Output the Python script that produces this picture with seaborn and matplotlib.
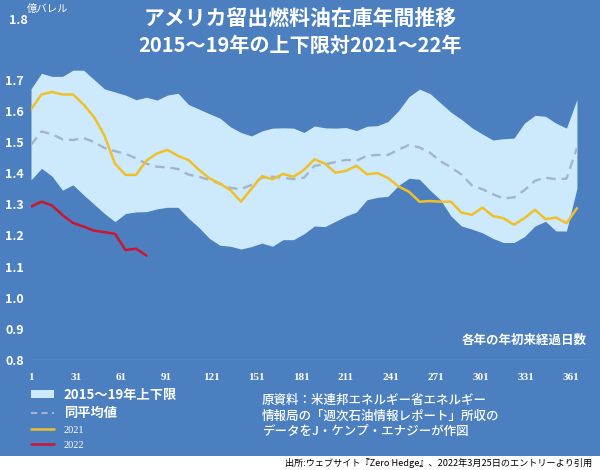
import numpy as np
import pandas as pd
import matplotlib
matplotlib.use("Agg")
import matplotlib.pyplot as plt
import matplotlib.patches as mpatches
from matplotlib.lines import Line2D
import seaborn as sns

# === datos ===
days = [1, 8, 15, 22, 29, 36, 43, 50, 57, 64, 71, 78, 85, 92, 99, 106, 113, 120,
        127, 134, 141, 148, 155, 162, 169, 176, 183, 190, 197, 204, 211, 218, 225,
        232, 239, 246, 253, 260, 267, 274, 281, 288, 295, 302, 309, 316, 323, 330,
        337, 344, 351, 358, 365]

band_hi = [1.67, 1.72, 1.71, 1.71, 1.73, 1.73, 1.70, 1.67, 1.66, 1.65, 1.635, 1.643,
           1.634, 1.65, 1.656, 1.62, 1.605, 1.59, 1.576, 1.548, 1.53, 1.519, 1.535,
           1.544, 1.545, 1.544, 1.53, 1.551, 1.545, 1.544, 1.546, 1.536, 1.55, 1.552,
           1.565, 1.60, 1.645, 1.669, 1.655, 1.625, 1.595, 1.572, 1.545, 1.525, 1.506,
           1.51, 1.512, 1.56, 1.585, 1.582, 1.56, 1.544, 1.636]

band_lo = [1.378, 1.415, 1.39, 1.345, 1.362, 1.33, 1.30, 1.27, 1.244, 1.27, 1.275,
           1.276, 1.285, 1.29, 1.29, 1.255, 1.225, 1.19, 1.168, 1.165, 1.156, 1.164,
           1.175, 1.165, 1.186, 1.186, 1.205, 1.23, 1.228, 1.245, 1.262, 1.275, 1.314,
           1.322, 1.325, 1.36, 1.383, 1.38, 1.345, 1.314, 1.262, 1.23, 1.22, 1.208,
           1.19, 1.177, 1.177, 1.196, 1.23, 1.245, 1.214, 1.214, 1.351]

avg_1519 = [1.49, 1.533, 1.525, 1.508, 1.506, 1.512, 1.50, 1.48, 1.47, 1.462, 1.447,
            1.43, 1.42, 1.418, 1.413, 1.395, 1.388, 1.378, 1.365, 1.352, 1.348, 1.362,
            1.385, 1.388, 1.385, 1.38, 1.385, 1.423, 1.428, 1.435, 1.442, 1.44, 1.455,
            1.458, 1.458, 1.475, 1.49, 1.482, 1.465, 1.438, 1.418, 1.395, 1.36, 1.348,
            1.332, 1.318, 1.322, 1.345, 1.375, 1.385, 1.38, 1.382, 1.48]

y2021 = [1.604, 1.652, 1.66, 1.652, 1.652, 1.62, 1.58, 1.52, 1.43, 1.394, 1.394, 1.44,
         1.463, 1.474, 1.455, 1.442, 1.41, 1.383, 1.366, 1.345, 1.308, 1.35, 1.39,
         1.38, 1.397, 1.388, 1.41, 1.444, 1.43, 1.401, 1.407, 1.423, 1.396, 1.40,
         1.384, 1.357, 1.34, 1.308, 1.31, 1.308, 1.308, 1.273, 1.266, 1.289, 1.262,
         1.255, 1.234, 1.255, 1.282, 1.252, 1.257, 1.239, 1.287]

days_2022 = [1, 8, 15, 22, 29, 36, 43, 50, 57, 64, 71, 78]
y2022 = [1.292, 1.308, 1.296, 1.265, 1.24, 1.228, 1.215, 1.21, 1.205, 1.153, 1.157, 1.135]

xticks = [1, 31, 61, 91, 121, 151, 181, 211, 241, 271, 301, 331, 361]
yticks = [0.8, 0.9, 1.0, 1.1, 1.2, 1.3, 1.4, 1.5, 1.6, 1.7]

df = pd.DataFrame({"day": days, "hi": band_hi, "lo": band_lo,
                   "avg": avg_1519, "y2021": y2021})
df22 = pd.DataFrame({"day": days_2022, "y2022": y2022})

# === estilo ===
BG = "#4b7fbf"
BAND = "#cdeafc"
GOLD = "#f0c02a"
RED = "#cc1530"
AVG = "#a3b4cc"

sns.set_theme(style="dark")
plt.rcParams["font.family"] = ["Noto Sans CJK JP", "DejaVu Sans"]

fig = plt.figure(figsize=(6, 4.7), dpi=100)
fig.patch.set_facecolor(BG)
# franja blanca abajo
fig.patches.append(mpatches.Rectangle((0, 0), 1, 14 / 470, transform=fig.transFigure,
                                      facecolor="white", edgecolor="none", zorder=1))

ax = fig.add_axes([31 / 600, 110 / 470, 559 / 600, 345 / 470])
ax.set_facecolor(BG)

ax.fill_between(df["day"], df["lo"], df["hi"], color=BAND, lw=0, zorder=1)
sns.lineplot(data=df, x="day", y="avg", ax=ax, color=AVG, lw=1.7,
             linestyle=(0, (4, 2.5)), zorder=2)
sns.lineplot(data=df, x="day", y="y2021", ax=ax, color=GOLD, lw=1.8, zorder=3)
sns.lineplot(data=df22, x="day", y="y2022", ax=ax, color=RED, lw=1.8, zorder=4)

ax.set_xlim(1, 373.7)
ax.set_ylim(0.8, 1.907)
ax.grid(False)
ax.axhline(0.8, color="#6f98cc", lw=1.0, zorder=0)
for s in ax.spines.values():
    s.set_visible(False)

ax.set_xticks(xticks)
ax.set_xticklabels([str(t) for t in xticks], family="Liberation Serif",
                   fontweight="bold", fontsize=8, color="white")
ax.set_yticks(yticks)
ax.set_yticklabels([f"{t:.1f}" for t in yticks], fontweight="bold",
                   fontsize=9, color="white")
ax.tick_params(axis="x", length=0, pad=9)
ax.tick_params(axis="y", length=0, pad=5)
ax.set_xlabel("")
ax.set_ylabel("")

# textos
fig.text(0.03, 1 - 21 / 470, "1.8", color="white", fontsize=9,
         fontweight="bold", ha="center", va="center")
fig.text(0.045, 1 - 9 / 470, "億バレル", color="white", fontsize=7.5,
         ha="left", va="center")
fig.text(0.50, 1 - 18 / 470, "アメリカ留出燃料油在庫年間推移", color="white",
         fontsize=15, fontweight="bold", ha="center", va="center")
fig.text(0.50, 1 - 46 / 470, "2015～19年の上下限対2021～22年", color="white",
         fontsize=14.5, fontweight="bold", ha="center", va="center")
fig.text(587 / 600, 1 - 340 / 470, "各年の年初来経過日数", color="white",
         fontsize=9, fontweight="bold", ha="right", va="center")
fig.text(262 / 600, 1 - 416 / 470,
         "原資料：米連邦エネルギー省エネルギー\n情報局の「週次石油情報レポート」所収の\nデータをJ・ケンプ・エナジーが作図",
         color="white", fontsize=9, fontweight="medium", ha="left", va="center",
         linespacing=1.25)
fig.text(592 / 600, 1 - 463 / 470,
         "出所:ウェブサイト『Zero Hedge』、2022年3月25日のエントリーより引用",
         color="black", fontsize=6.6, ha="right", va="center", zorder=5)

# leyenda
handles = [mpatches.Patch(facecolor=BAND, edgecolor="none"),
           Line2D([], [], color=AVG, lw=1.5, linestyle=(0, (3, 2))),
           Line2D([], [], color=GOLD, lw=1.8),
           Line2D([], [], color=RED, lw=1.8)]
labels = ["2015～19年上下限", "同平均値", "2021", "2022"]
leg = fig.legend(handles, labels, loc="upper left", prop={"size": 9.5},
                 bbox_to_anchor=(24 / 600, 1 - 381 / 470), frameon=False,
                 handlelength=1.8, handleheight=0.5, handletextpad=0.7,
                 labelspacing=0.35, borderpad=0)
for i, t in enumerate(leg.get_texts()):
    t.set_color("white")
    if i < 2:
        t.set_fontsize(9.5)
        t.set_fontweight("bold")
    else:
        t.set_fontsize(7.5)
        t.set_family("Liberation Serif")

fig.savefig("out.png", dpi=100, facecolor=fig.get_facecolor())
